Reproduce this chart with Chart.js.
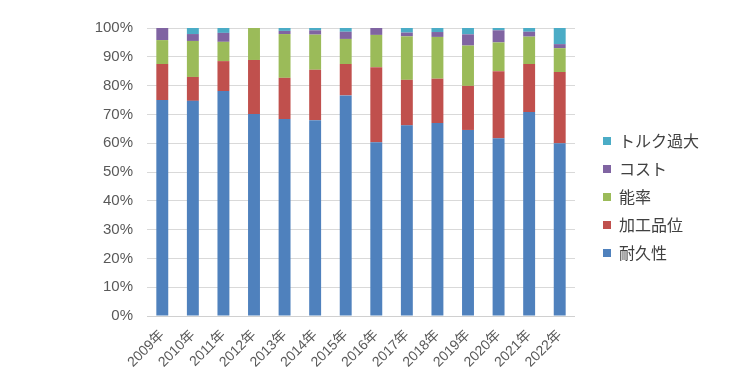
<!DOCTYPE html>
<html>
<head>
<meta charset="utf-8">
<script src="https://cdn.jsdelivr.net/npm/chart.js@4/dist/chart.umd.min.js"></script>
<style>
  html, body { margin: 0; padding: 0; background: #fff; }
  #wrap { width: 740px; height: 378px; position: relative; }
</style>
</head>
<body>
<div id="wrap"><canvas id="barChart"></canvas></div>
<script>
const years = ['2009年', '2010年', '2011年', '2012年', '2013年', '2014年', '2015年',
               '2016年', '2017年', '2018年', '2019年', '2020年', '2021年', '2022年'];
const durability = [75.0, 74.7, 78.1, 70.1, 68.4, 68.0, 76.6, 60.3, 66.2, 67.0, 64.6, 61.7, 70.8, 60.0];
const finish     = [12.5,  8.3, 10.4, 18.8, 14.3, 17.5, 10.9, 26.1, 15.8, 15.4, 15.3, 23.3, 16.7, 24.7];
const efficiency = [ 8.3, 12.5,  6.7, 11.1, 15.2, 12.2,  8.7, 11.2, 15.1, 14.5, 14.0, 10.0,  9.5,  8.3];
const cost       = [ 4.2,  2.4,  3.1,  0.0,  1.1,  1.5,  2.5,  2.4,  1.3,  1.7,  3.9,  4.2,  1.7,  1.4];
const torque     = [ 0.0,  2.1,  1.7,  0.0,  1.0,  0.8,  1.3,  0.0,  1.6,  1.4,  2.2,  0.8,  1.3,  5.6];
const yTicks = ['0%', '10%', '20%', '30%', '40%', '50%', '60%', '70%', '80%', '90%', '100%'];

const textColor = '#595959';
const fontFamily = 'Arial, "Liberation Sans", "Noto Sans CJK JP", sans-serif';
const legendGap = 16;

// leave a gap between the plot and the legend on the right
const legendGapPlugin = {
    id: 'legendGap',
    beforeLayout(chart) {
        const lg = chart.legend;
        if (lg && !lg._gapPatched) {
            const origFit = lg.fit.bind(lg);
            lg.fit = function() {
                origFit();
                this.width += legendGap;
            };
            lg._gapPatched = true;
        }
    },
    afterLayout(chart) {
        const lg = chart.legend;
        if (lg) {
            lg.left += legendGap;
            lg.top -= 6;
            lg.bottom -= 6;
        }
    }
};

document.addEventListener('DOMContentLoaded', function() {
    const ctx = document.getElementById('barChart').getContext('2d');

    const series = [
        { label: '耐久性', data: durability, color: '#4F81BD' },
        { label: '加工品位', data: finish, color: '#C0504D' },
        { label: '能率', data: efficiency, color: '#9BBB59' },
        { label: 'コスト', data: cost, color: '#8064A2' },
        { label: 'トルク過大', data: torque, color: '#4BACC6' }
    ];

    new Chart(ctx, {
        type: 'bar',
        data: {
            labels: years,
            datasets: series.map(s => ({
                label: s.label,
                data: s.data,
                backgroundColor: s.color,
                borderWidth: 0,
                barPercentage: 0.78,
                categoryPercentage: 0.5
            }))
        },
        options: {
            responsive: true,
            maintainAspectRatio: false,
            animation: false,
            layout: { padding: { left: 0, right: 31, top: 28, bottom: 0 } },
            plugins: {
                tooltip: { enabled: false },
                legend: {
                    position: 'right',
                    reverse: true,
                    labels: {
                        boxWidth: 8,
                        boxHeight: 8,
                        padding: 12,
                        color: '#404040',
                        font: { size: 16, family: '"Noto Sans CJK JP", sans-serif' }
                    }
                }
            },
            scales: {
                x: {
                    stacked: true,
                    grid: { display: false, drawTicks: false },
                    border: { color: '#d0d0d0' },
                    ticks: {
                        color: textColor,
                        maxRotation: 45,
                        minRotation: 45,
                        padding: 11,
                        font: { size: 14, family: fontFamily }
                    },
                    afterFit: function(scale) { scale.height = 62; }
                },
                y: {
                    stacked: true,
                    min: 0,
                    max: 100,
                    grid: { color: '#d9d9d9', drawTicks: false },
                    border: { display: false },
                    ticks: {
                        stepSize: 10,
                        color: textColor,
                        padding: 14,
                        font: { size: 15, family: fontFamily },
                        callback: function(value) { return yTicks[Math.round(value / 10)]; }
                    },
                    afterFit: function(scale) { scale.width = 147; }
                }
            }
        },
        plugins: [legendGapPlugin]
    });
});
</script>
</body>
</html>
